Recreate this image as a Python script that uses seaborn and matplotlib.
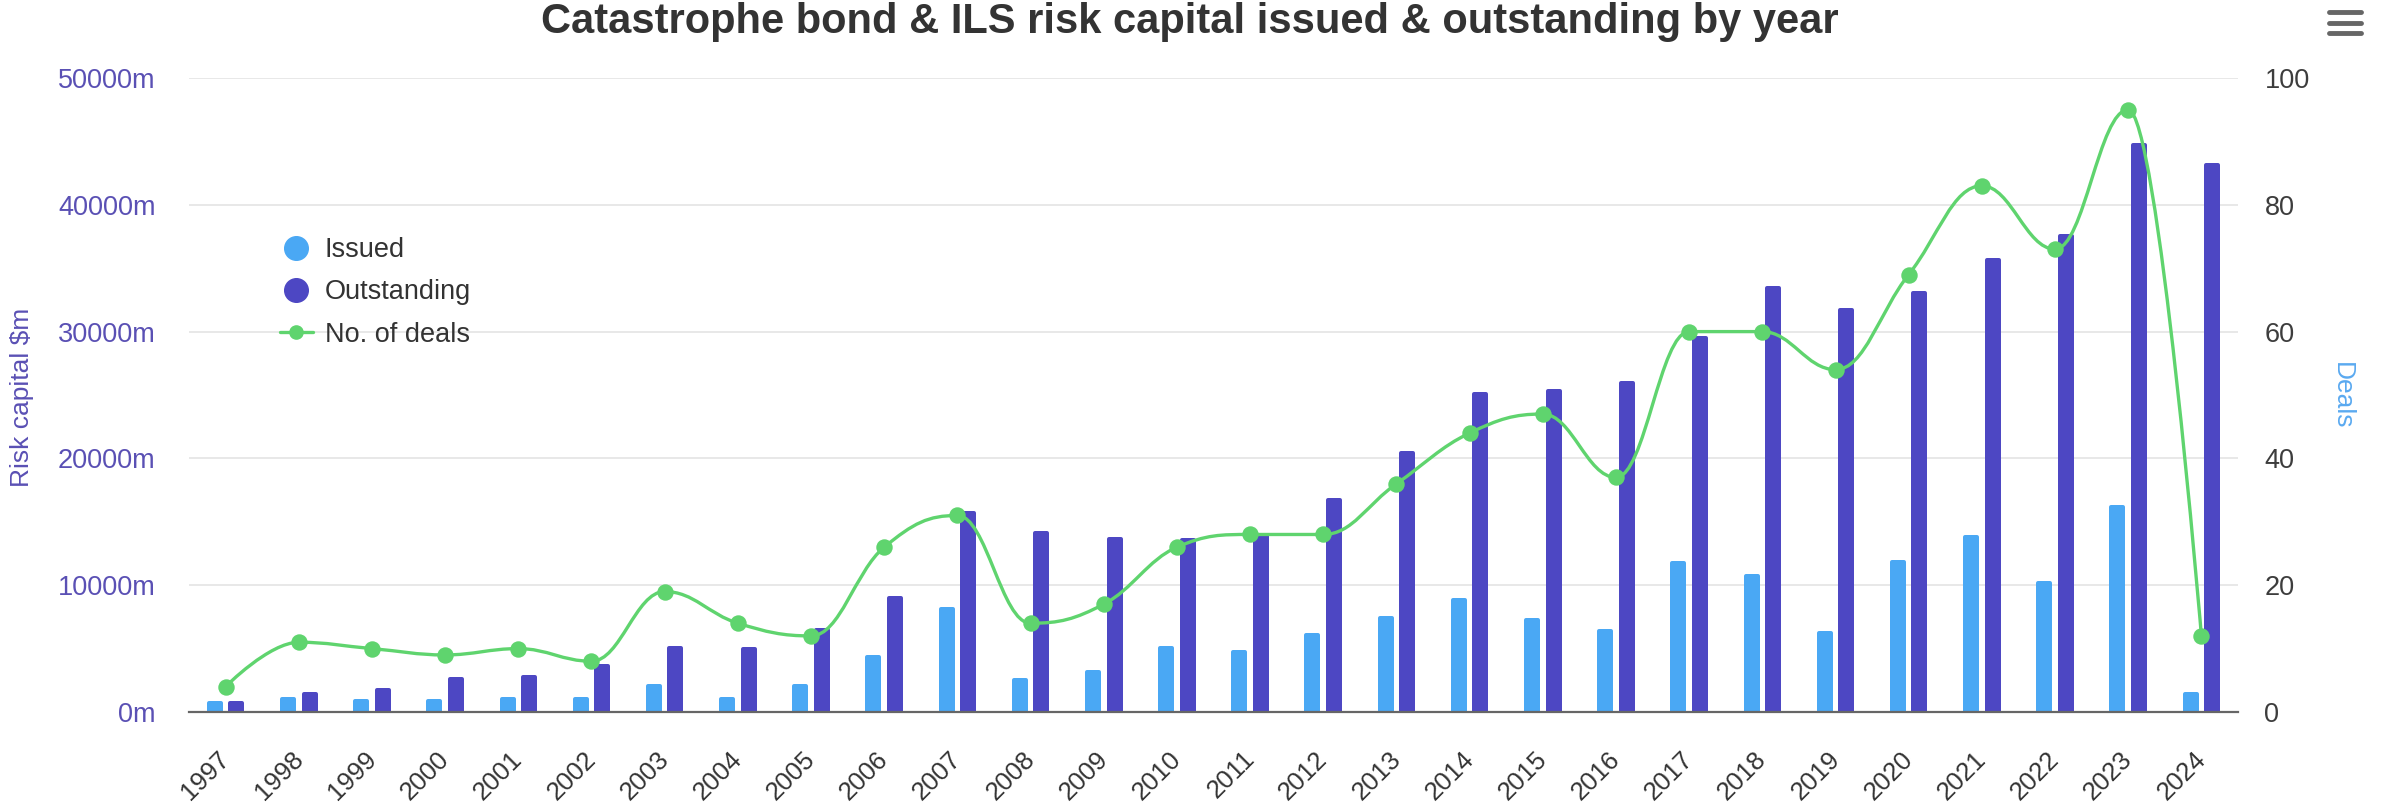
import numpy as np
import pandas as pd
import matplotlib
matplotlib.use("Agg")
import matplotlib.pyplot as plt
from matplotlib.path import Path
from matplotlib.patches import PathPatch
from matplotlib.lines import Line2D
from matplotlib.transforms import ScaledTranslation
import seaborn as sns

# ---------------- data ----------------
years = [str(y) for y in range(1997, 2025)]
issued = [700, 1000, 870, 870, 1000, 1000, 2050, 1000, 2050, 4340, 8120, 2520, 3150, 5050,
          4730, 6070, 7410, 8830, 7260, 6400, 11750, 10730, 6230, 11830, 13800, 10170, 16170, 1420]
outstanding = [700, 1400, 1750, 2600, 2760, 3630, 5050, 4970, 6470, 9000, 15700, 14100, 13650, 13560,
               13960, 16720, 20430, 25060, 25300, 25950, 29500, 33440, 31700, 33040, 35650, 37540, 44710, 43140]
deals = [4, 11, 10, 9, 10, 8, 19, 14, 12, 26, 31, 14, 17, 26, 28, 28, 36, 44, 47, 37,
         60, 60, 54, 69, 83, 73, 95, 12]
series_names = ["Issued", "Outstanding"]
left_ticks = [0, 10000, 20000, 30000, 40000, 50000]
right_ticks = [0, 20, 40, 60, 80, 100]

C_ISS = "#4aa8f4"
C_OUT = "#4d47c3"
C_DEAL = "#5fd46e"
C_LEFT = "#5a50b4"
C_DEALLBL = "#5aa9f0"

sns.set_theme(style="white")
plt.rcParams["font.family"] = ["Liberation Sans", "DejaVu Sans"]

df = pd.DataFrame({
    "year": years * 2,
    "series": [series_names[0]] * len(years) + [series_names[1]] * len(years),
    "value": issued + outstanding,
})

W, H = 2386, 806
PL, PR, PT, PB = 189, 2238, 78, 712
fig = plt.figure(figsize=(W / 100, H / 100), dpi=100)
ax = fig.add_axes([PL / W, 1 - PB / H, (PR - PL) / W, (PB - PT) / H])

sns.barplot(data=df, x="year", y="value", hue="series", hue_order=series_names,
            palette=[C_ISS, C_OUT], saturation=1, width=0.59, gap=0.444,
            errorbar=None, legend=False, ax=ax,
            linewidth=2.88, joinstyle="round")
for p in ax.patches:
    p.set_edgecolor(p.get_facecolor())

ax.set_xlim(-0.5, len(years) - 0.5)
ax.set_ylim(0, 50000)
ax.set_yticks(left_ticks)
ax.set_yticklabels([f"{v}m" for v in left_ticks])
ax.yaxis.grid(True, color="#e6e6e6", linewidth=1.3)
ax.xaxis.grid(False)
ax.set_axisbelow(True)
for s in ["top", "left", "right"]:
    ax.spines[s].set_visible(False)
ax.spines["bottom"].set_color("#666666")
ax.spines["bottom"].set_linewidth(1.6)
ax.tick_params(axis="y", length=0, pad=24, labelsize=19.5, labelcolor=C_LEFT)
ax.tick_params(axis="x", length=0, pad=25, labelsize=18.5, labelcolor="#333333")
ax.set_xticks(range(len(years)))
ax.set_xticklabels(years, rotation=45, ha="right", rotation_mode="anchor")
for lab in ax.get_xticklabels():
    lab.set_transform(lab.get_transform() + ScaledTranslation(-0.08, 0, fig.dpi_scale_trans))
ax.set_xlabel("")
ax.set_ylabel("")

# ---------------- deals (secondary axis) ----------------
ax2 = ax.twinx()
ax2.set_ylim(0, 100)
ax2.set_yticks(right_ticks)
ax2.tick_params(axis="y", length=0, pad=19, labelsize=19.5, labelcolor="#3d3d3d")
for s in ax2.spines.values():
    s.set_visible(False)
ax2.grid(False)

xs = np.arange(len(deals), dtype=float)
ys = np.array(deals, dtype=float)


def spline_path(xs, ys, sm=1.5, den=2.5):
    n = len(xs)
    lc = [None] * n
    rc = [None] * n
    for i in range(1, n - 1):
        x, y = xs[i], ys[i]
        lx, ly = xs[i - 1], ys[i - 1]
        nx, ny = xs[i + 1], ys[i + 1]
        lcx, lcy = (sm * x + lx) / den, (sm * y + ly) / den
        rcx, rcy = (sm * x + nx) / den, (sm * y + ny) / den
        if rcx != lcx:
            corr = ((rcy - lcy) * (rcx - x)) / (rcx - lcx) + y - rcy
            lcy += corr
            rcy += corr
        if lcy > ly and lcy > y:
            lcy = max(ly, y); rcy = 2 * y - lcy
        elif lcy < ly and lcy < y:
            lcy = min(ly, y); rcy = 2 * y - lcy
        if rcy > ny and rcy > y:
            rcy = max(ny, y); lcy = 2 * y - rcy
        elif rcy < ny and rcy < y:
            rcy = min(ny, y); lcy = 2 * y - rcy
        lc[i] = (lcx, lcy)
        rc[i] = (rcx, rcy)
    verts = [(xs[0], ys[0])]
    codes = [Path.MOVETO]
    for i in range(1, n):
        c1 = rc[i - 1] if rc[i - 1] is not None else (xs[i - 1], ys[i - 1])
        c2 = lc[i] if lc[i] is not None else (xs[i], ys[i])
        verts += [c1, c2, (xs[i], ys[i])]
        codes += [Path.CURVE4] * 3
    return Path(verts, codes)


ax2.add_patch(PathPatch(spline_path(xs, ys), facecolor="none", edgecolor=C_DEAL,
                        linewidth=2.4, capstyle="round", joinstyle="round", zorder=3))
sns.scatterplot(x=xs, y=ys, ax=ax2, color=C_DEAL, s=140, linewidth=0, zorder=4, legend=False)
ax2.set_xlim(-0.5, len(years) - 0.5)

# axis titles
fig.text(22 / W, 1 - 397 / H, "Risk capital $m", rotation=90, ha="center", va="center",
         fontsize=19, color=C_LEFT)
fig.text(2342 / W, 1 - 396 / H, "Deals", rotation=270, ha="center", va="center",
         fontsize=19, color=C_DEALLBL)

# ---------------- legend ----------------
handles = [
    Line2D([], [], marker="o", linestyle="None", color=C_ISS, markersize=17),
    Line2D([], [], marker="o", linestyle="None", color=C_OUT, markersize=17),
    Line2D([], [], marker="o", linestyle="-", color=C_DEAL, markersize=9.5, linewidth=2.4),
]
fig.legend(handles, ["Issued", "Outstanding", "No. of deals"], loc="upper left",
           bbox_to_anchor=(280 / W, 1 - 237 / H), frameon=False, fontsize=19.5,
           handlelength=1.2, handletextpad=0.46, labelspacing=0.6, borderpad=0,
           borderaxespad=0, labelcolor="#333333")

# ---------------- title & menu icon ----------------
fig.text(1190 / W, 1 - 33 / H, "Catastrophe bond & ILS risk capital issued & outstanding by year",
         ha="center", va="baseline", fontsize=30, fontweight="bold", color="#333333")
for yy in (12, 23, 33):
    fig.add_artist(Line2D([2329 / W, 2361 / W], [1 - yy / H, 1 - yy / H], color="#666666",
                          linewidth=3.5, solid_capstyle="round"))

fig.savefig("out.png", dpi=100, facecolor="white")
